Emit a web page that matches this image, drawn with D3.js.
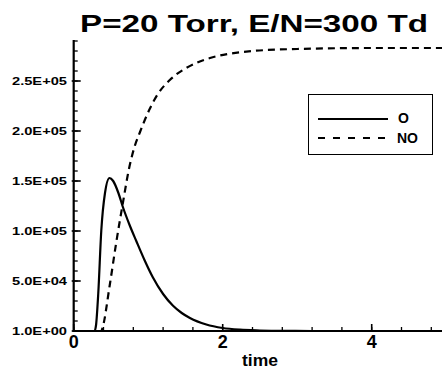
<!DOCTYPE html>
<html>
<head>
<meta charset="utf-8">
<script src="https://cdn.jsdelivr.net/npm/d3@7/dist/d3.min.js"></script>
<style>
body { margin: 0; background: #fff; }
text { font-family: "Liberation Sans", Arial, sans-serif; font-weight: bold; fill: #000; }
</style>
</head>
<body>
<script>
// chart data
var title = "P=20 Torr, E/N=300 Td";
var xLabel = "time";
var seriesNames = ["O", "NO"];

var tO = [0, 0.28, 0.30, 0.33, 0.37, 0.42, 0.48, 0.53, 0.60, 0.66, 0.75, 0.84, 0.95, 1.06, 1.20, 1.33, 1.45, 1.56, 1.78, 2.00, 2.23, 2.50, 2.80, 3.20, 5.00];
var vO = [0, 0, 6000, 38000, 100000, 138000, 153000, 150000, 138000, 124000, 106000, 90000, 71000, 54000, 37000, 25500, 18000, 13000, 6500, 3000, 1300, 500, 100, 0, 0];

var tNO = [0, 0.37, 0.39, 0.48, 0.57, 0.66, 0.75, 0.82, 0.89, 1.02, 1.13, 1.29, 1.51, 1.83, 2.07, 2.40, 3.00, 4.00, 5.00];
var vNO = [0, 0, 4000, 44000, 88000, 128000, 165000, 185000, 199000, 222000, 237000, 251000, 263000, 273000, 277000, 280000, 282000, 283000, 283000];

var xMajor = [0, 2, 4];
var yMajor = [0, 50000, 100000, 150000, 200000, 250000];
var yTickLabels = ["1.0E+00", "5.0E+04", "1.0E+05", "1.5E+05", "2.0E+05", "2.5E+05"];

///////////////////////////
// plot parameter
var W = 442, H = 368;
var svg = d3.select("body").append("svg")
	.attr("width", W)
	.attr("height", H);

var x = d3.scaleLinear().domain([0, 5]).range([73.7, 446.2]);
var y = d3.scaleLinear().domain([0, 290000]).range([331, 41]);

// title
svg.append("text")
	.attr("x", 80).attr("y", 32)
	.attr("font-size", 24)
	.attr("textLength", 348)
	.attr("lengthAdjust", "spacingAndGlyphs")
	.text(title);

// minor ticks
var yMinor = d3.range(0, 290001, 10000);
var xMinor = d3.range(0, 5.01, 0.4);

svg.selectAll(".ymin").data(yMinor).enter().append("line")
	.attr("x1", x(0)).attr("x2", x(0) + 4)
	.attr("y1", function(d){ return y(d); })
	.attr("y2", function(d){ return y(d); })
	.attr("stroke", "#000").attr("stroke-width", 1.3);
svg.selectAll(".ymaj").data(yMajor).enter().append("line")
	.attr("x1", x(0) - 2).attr("x2", x(0) + 7)
	.attr("y1", function(d){ return y(d); })
	.attr("y2", function(d){ return y(d); })
	.attr("stroke", "#000").attr("stroke-width", 1.6);

svg.selectAll(".xmin").data(xMinor).enter().append("line")
	.attr("x1", function(d){ return x(d); })
	.attr("x2", function(d){ return x(d); })
	.attr("y1", y(0)).attr("y2", y(0) - 4)
	.attr("stroke", "#000").attr("stroke-width", 1.3);
svg.selectAll(".xmaj").data(xMajor).enter().append("line")
	.attr("x1", function(d){ return x(d); })
	.attr("x2", function(d){ return x(d); })
	.attr("y1", y(0)).attr("y2", y(0) - 7)
	.attr("stroke", "#000").attr("stroke-width", 1.6);

// axis lines
svg.append("line")
	.attr("x1", x(0)).attr("x2", x(0))
	.attr("y1", 40).attr("y2", y(0) + 1)
	.attr("stroke", "#000").attr("stroke-width", 2.2);
svg.append("line")
	.attr("x1", x(0) - 1).attr("x2", W)
	.attr("y1", y(0)).attr("y2", y(0))
	.attr("stroke", "#000").attr("stroke-width", 2.2);

// tick labels
svg.selectAll(".ylab").data(yMajor).enter().append("text")
	.attr("x", 67)
	.attr("y", function(d){ return y(d) + 4; })
	.attr("text-anchor", "end")
	.attr("font-size", 11.5)
	.attr("textLength", 55)
	.attr("lengthAdjust", "spacingAndGlyphs")
	.text(function(d, i){ return yTickLabels[i]; });

svg.selectAll(".xlab").data(xMajor).enter().append("text")
	.attr("x", function(d){ return x(d); })
	.attr("y", 348)
	.attr("text-anchor", "middle")
	.attr("font-size", 18)
	.text(function(d){ return d; });

svg.append("text")
	.attr("x", 260).attr("y", 366)
	.attr("text-anchor", "middle")
	.attr("font-size", 16)
	.attr("textLength", 36)
	.attr("lengthAdjust", "spacingAndGlyphs")
	.text(xLabel);

// curves
var line = d3.line()
	.curve(d3.curveMonotoneX)
	.x(function(d){ return x(d[0]); })
	.y(function(d){ return y(d[1]); });

svg.append("path")
	.attr("d", line(d3.zip(tO, vO)))
	.attr("fill", "none").attr("stroke", "#000").attr("stroke-width", 2.2);
svg.append("path")
	.attr("d", line(d3.zip(tNO, vNO)))
	.attr("fill", "none").attr("stroke", "#000").attr("stroke-width", 2.2)
	.attr("stroke-dasharray", "7,5");

// legend
var lg = svg.append("g");
lg.append("rect")
	.attr("x", 308.5).attr("y", 94.5)
	.attr("width", 124).attr("height", 60)
	.attr("fill", "#fff").attr("stroke", "#000").attr("stroke-width", 1);
lg.append("line")
	.attr("x1", 318).attr("x2", 388).attr("y1", 119).attr("y2", 119)
	.attr("stroke", "#000").attr("stroke-width", 2);
lg.append("line")
	.attr("x1", 318).attr("x2", 388).attr("y1", 138).attr("y2", 138)
	.attr("stroke", "#000").attr("stroke-width", 2)
	.attr("stroke-dasharray", "7,8");
lg.append("text").attr("x", 398).attr("y", 123).attr("font-size", 14).text(seriesNames[0]);
lg.append("text").attr("x", 397).attr("y", 143).attr("font-size", 14).text(seriesNames[1]);
</script>
</body>
</html>
